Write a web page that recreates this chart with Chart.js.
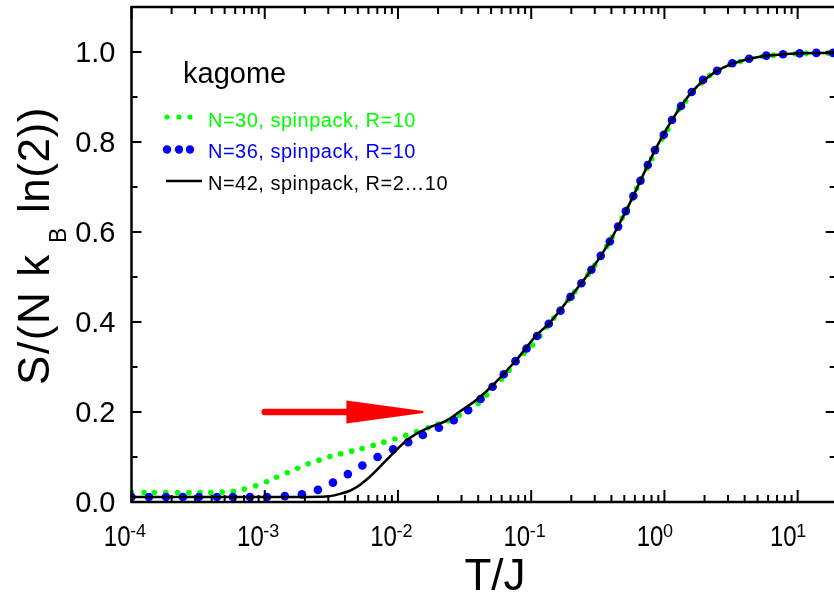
<!DOCTYPE html>
<html>
<head>
<meta charset="utf-8">
<title>kagome entropy</title>
<script src="https://cdn.jsdelivr.net/npm/chart.js@4.4.1/dist/chart.umd.min.js"></script>
<style>
  html, body { margin: 0; padding: 0; background: #fff; overflow: hidden; }
  canvas { display: block; }
</style>
</head>
<body>
<canvas id="entropyChart" width="840" height="597"></canvas>
<script>
// temperatures stored as log10(T/J), entropy as S/(N kB ln(2))

// N=30, spinpack, R=10 (green dots)
const n30LogT = [-4.000, -3.906, -3.829, -3.743, -3.653, -3.569, -3.486, -3.404, -3.319, -3.236,
  -3.154, -3.068, -2.986, -2.911, -2.831, -2.753, -2.674, -2.593, -2.511, -2.431,
  -2.348, -2.269, -2.186, -2.106, -2.023, -1.941, -1.860, -1.773, -1.698, -1.623,
  -1.541, -1.468, -1.398, -1.335, -1.280, -1.223, -1.166, -1.108, -1.055, -0.990,
  -0.935, -0.883, -0.830, -0.778, -0.723, -0.673, -0.620, -0.572, -0.523, -0.478,
  -0.433, -0.392, -0.354, -0.317, -0.279, -0.242, -0.208, -0.170, -0.133, -0.095,
  -0.058, -0.017, 0.025, 0.066, 0.107, 0.160, 0.216, 0.276, 0.340, 0.411,
  0.490, 0.569, 0.651, 0.734, 0.816, 0.899, 0.981, 1.064, 1.146, 1.229];
const n30S = [0.021, 0.021, 0.021, 0.021, 0.021, 0.021, 0.021, 0.021, 0.022, 0.024,
  0.029, 0.036, 0.045, 0.055, 0.065, 0.075, 0.085, 0.093, 0.101, 0.107,
  0.113, 0.119, 0.126, 0.133, 0.140, 0.148, 0.156, 0.165, 0.173, 0.180,
  0.193, 0.207, 0.219, 0.238, 0.256, 0.273, 0.293, 0.311, 0.330, 0.349,
  0.369, 0.389, 0.409, 0.429, 0.449, 0.467, 0.487, 0.506, 0.526, 0.547,
  0.568, 0.589, 0.610, 0.631, 0.652, 0.674, 0.697, 0.719, 0.741, 0.763,
  0.786, 0.807, 0.828, 0.851, 0.872, 0.891, 0.913, 0.931, 0.948, 0.960,
  0.972, 0.979, 0.986, 0.990, 0.993, 0.995, 0.996, 0.997, 0.998, 0.998];

// N=36, spinpack, R=10 (blue dots)
const n36LogT = [-4.000, -3.869, -3.741, -3.614, -3.494, -3.359, -3.239, -3.111, -2.983, -2.849,
  -2.721, -2.601, -2.488, -2.376, -2.267, -2.153, -2.036, -1.923, -1.813, -1.693,
  -1.581, -1.473, -1.380, -1.290, -1.206, -1.118, -1.035, -0.956, -0.868, -0.780,
  -0.705, -0.623, -0.548, -0.478, -0.410, -0.348, -0.290, -0.233, -0.180, -0.125,
  -0.071, -0.005, 0.057, 0.125, 0.205, 0.290, 0.395, 0.510, 0.635, 0.765,
  0.890, 1.015, 1.140, 1.265];
const n36S = [0.011, 0.011, 0.011, 0.011, 0.011, 0.011, 0.011, 0.011, 0.011, 0.013,
  0.017, 0.027, 0.043, 0.062, 0.081, 0.100, 0.117, 0.133, 0.149, 0.165,
  0.182, 0.204, 0.229, 0.256, 0.284, 0.313, 0.341, 0.369, 0.396, 0.425,
  0.456, 0.486, 0.516, 0.547, 0.579, 0.612, 0.646, 0.680, 0.714, 0.749,
  0.782, 0.816, 0.849, 0.880, 0.911, 0.938, 0.958, 0.975, 0.985, 0.992,
  0.995, 0.997, 0.998, 0.998];

// N=42, spinpack, R=2...10 (black line)
const n42LogT = [-4.000, -3.000, -2.736, -2.536, -2.436, -2.361, -2.286, -2.211, -2.136, -2.061,
  -1.986, -1.911, -1.836, -1.736, -1.635, -1.536, -1.410, -1.286, -1.110, -0.960,
  -0.868, -0.705, -0.548, -0.410, -0.290, -0.180, -0.071, 0.057, 0.205, 0.395,
  0.635, 0.890, 1.140, 1.290];
const n42S = [0.011, 0.011, 0.011, 0.012, 0.018, 0.025, 0.038, 0.056, 0.078, 0.101,
  0.123, 0.142, 0.156, 0.169, 0.181, 0.201, 0.227, 0.260, 0.316, 0.371,
  0.396, 0.456, 0.516, 0.579, 0.646, 0.714, 0.782, 0.849, 0.911, 0.958,
  0.985, 0.995, 0.998, 0.998];

// tick labels
const xTickExponents = [-4, -3, -2, -1, 0, 1];
const yTickValues = [0, 0.2, 0.4, 0.6, 0.8, 1.0];
const yTickLabels = ["0.0", "0.2", "0.4", "0.6", "0.8", "1.0"];

// red arrow: tail, head base, tip (T/J) at S = 0.2
const arrowT = [1.0e-3, 4.1e-3, 1.55e-2];
const arrowS = 0.2;

const legendTitle = "kagome";
const seriesNames = ["N=30, spinpack, R=10", "N=36, spinpack, R=10", "N=42, spinpack, R=2\u202610"];

const GREEN = "#00ff00";
const BLUE = "#0000ff";
const FONT = "'Liberation Sans', Arial, sans-serif";

function toPoints(logT, s) {
  return logT.map((l, i) => ({ x: Math.pow(10, l), y: s[i] }));
}

function fitText(ctx, str, x, y, target) {
  ctx.letterSpacing = "0px";
  const w = ctx.measureText(str).width;
  const ls = (target - w) / str.length;
  ctx.letterSpacing = ls + "px";
  ctx.fillText(str, x, y);
  ctx.letterSpacing = "0px";
}

function seg(ctx, x1, y1, x2, y2) {
  ctx.beginPath();
  ctx.moveTo(x1, y1);
  ctx.lineTo(x2, y2);
  ctx.stroke();
}

// frame, inward ticks, labels, legend and arrow
const decorPlugin = {
  id: "decor",
  afterDraw(chart) {
    const { ctx, chartArea: a } = chart;
    const x = chart.scales.x;
    const y = chart.scales.y;
    ctx.save();

    // red arrow
    const ax0 = x.getPixelForValue(arrowT[0]);
    const axb = x.getPixelForValue(arrowT[1]);
    const axt = x.getPixelForValue(arrowT[2]);
    const ay = y.getPixelForValue(arrowS);
    ctx.strokeStyle = "#ff0000";
    ctx.fillStyle = "#ff0000";
    ctx.lineWidth = 6.5;
    ctx.lineCap = "round";
    seg(ctx, ax0, ay, axb + 2, ay);
    ctx.lineCap = "butt";
    ctx.beginPath();
    ctx.moveTo(axb, ay - 11.5);
    ctx.lineTo(axt, ay - 1);
    ctx.lineTo(axt, ay + 1);
    ctx.lineTo(axb, ay + 11.5);
    ctx.closePath();
    ctx.fill();

    // frame
    ctx.strokeStyle = "#000";
    ctx.fillStyle = "#000";
    ctx.lineWidth = 2.5;
    ctx.strokeRect(a.left, a.top, a.right - a.left, a.bottom - a.top);

    // x ticks (log minor + decades)
    ctx.lineWidth = 2;
    x.ticks.forEach((t) => {
      const e = Math.floor(Math.log10(t.value) + 1e-9);
      const m = t.value / Math.pow(10, e);
      if (Math.abs(m - Math.round(m)) > 1e-6) return;
      const px = x.getPixelForValue(t.value);
      if (px < a.left - 0.5 || px > a.right + 0.5) return;
      const len = Math.round(m) === 1 ? 12 : 7;
      seg(ctx, px, a.bottom, px, a.bottom - len);
      seg(ctx, px, a.top, px, a.top + len);
    });

    // y ticks every 0.1
    y.ticks.forEach((t) => {
      const k = Math.round(t.value * 10);
      const py = y.getPixelForValue(t.value);
      const len = k % 2 === 0 ? 10 : 6;
      seg(ctx, a.left, py, a.left + len, py);
      seg(ctx, a.right, py, a.right - len, py);
    });

    // y tick labels
    ctx.font = "29px " + FONT;
    ctx.textAlign = "right";
    ctx.textBaseline = "middle";
    yTickValues.forEach((v, i) => {
      ctx.fillText(yTickLabels[i], a.left - 16, y.getPixelForValue(v) + 1.5);
    });

    // x tick labels as 10^n
    ctx.textBaseline = "alphabetic";
    xTickExponents.forEach((n) => {
      const px = x.getPixelForValue(Math.pow(10, n));
      ctx.save();
      ctx.translate(px - 1, 546);
      ctx.scale(0.8, 1);
      ctx.font = "30px " + FONT;
      ctx.textAlign = "right";
      ctx.fillText("10", 0, 0);
      ctx.restore();
      ctx.font = "18px " + FONT;
      ctx.textAlign = "left";
      ctx.fillText(String(n), px - 1.5, 537);
    });

    // axis titles
    ctx.font = "44px " + FONT;
    ctx.textAlign = "center";
    ctx.fillText("T/J", 495, 590);

    ctx.save();
    ctx.translate(48.5, 385);
    ctx.rotate(-Math.PI / 2);
    ctx.textAlign = "left";
    ctx.font = "44px " + FONT;
    fitText(ctx, "S/(N k", 0, 0, 132);
    ctx.font = "23px " + FONT;
    ctx.fillText("B", 142, 17);
    ctx.font = "44px " + FONT;
    fitText(ctx, "ln(2))", 172, 0, 106);
    ctx.restore();

    // legend
    ctx.textAlign = "left";
    ctx.font = "29px " + FONT;
    ctx.fillText(legendTitle, 183, 83);

    ctx.font = "20px " + FONT;
    ctx.letterSpacing = "0.5px";
    const dotX = [167, 179, 190];
    ctx.fillStyle = GREEN;
    dotX.forEach((dx) => { ctx.beginPath(); ctx.arc(dx, 117, 2.6, 0, Math.PI * 2); ctx.fill(); });
    ctx.fillText(seriesNames[0], 208, 127);
    ctx.fillStyle = BLUE;
    dotX.forEach((dx) => { ctx.beginPath(); ctx.arc(dx, 149.5, 4.2, 0, Math.PI * 2); ctx.fill(); });
    ctx.fillText(seriesNames[1], 208, 158);
    ctx.fillStyle = "#000";
    ctx.strokeStyle = "#000";
    ctx.lineWidth = 2.5;
    seg(ctx, 166, 181, 202, 181);
    ctx.fillText(seriesNames[2], 208, 190);
    ctx.letterSpacing = "0px";

    ctx.restore();
  },
};

new Chart(document.getElementById("entropyChart"), {
  type: "line",
  data: {
    datasets: [
      {
        label: seriesNames[2],
        data: toPoints(n42LogT, n42S),
        borderColor: "#000",
        borderWidth: 2.5,
        pointRadius: 0,
        cubicInterpolationMode: "monotone",
        fill: false,
      },
      {
        label: seriesNames[1],
        data: toPoints(n36LogT, n36S),
        showLine: false,
        pointRadius: 4.3,
        pointBorderWidth: 0,
        pointBackgroundColor: BLUE,
        borderColor: BLUE,
      },
      {
        label: seriesNames[0],
        data: toPoints(n30LogT, n30S),
        showLine: false,
        pointRadius: 2.8,
        pointBorderWidth: 0,
        pointBackgroundColor: GREEN,
        borderColor: GREEN,
      },
    ],
  },
  options: {
    responsive: false,
    animation: false,
    devicePixelRatio: 1,
    events: [],
    layout: { padding: { top: 7, right: 4, left: 0, bottom: 0 } },
    plugins: {
      legend: { display: false },
      tooltip: { enabled: false },
    },
    scales: {
      x: {
        type: "logarithmic",
        min: 1e-4,
        max: 19.3,
        ticks: { display: false },
        grid: { display: false, drawTicks: false },
        border: { display: false },
        afterFit: (s) => { s.height = 95; },
      },
      y: {
        type: "linear",
        min: 0,
        max: 1.1,
        ticks: { display: false, stepSize: 0.1 },
        grid: { display: false, drawTicks: false },
        border: { display: false },
        afterFit: (s) => { s.width = 131.5; },
      },
    },
  },
  plugins: [decorPlugin],
});
</script>
</body>
</html>
